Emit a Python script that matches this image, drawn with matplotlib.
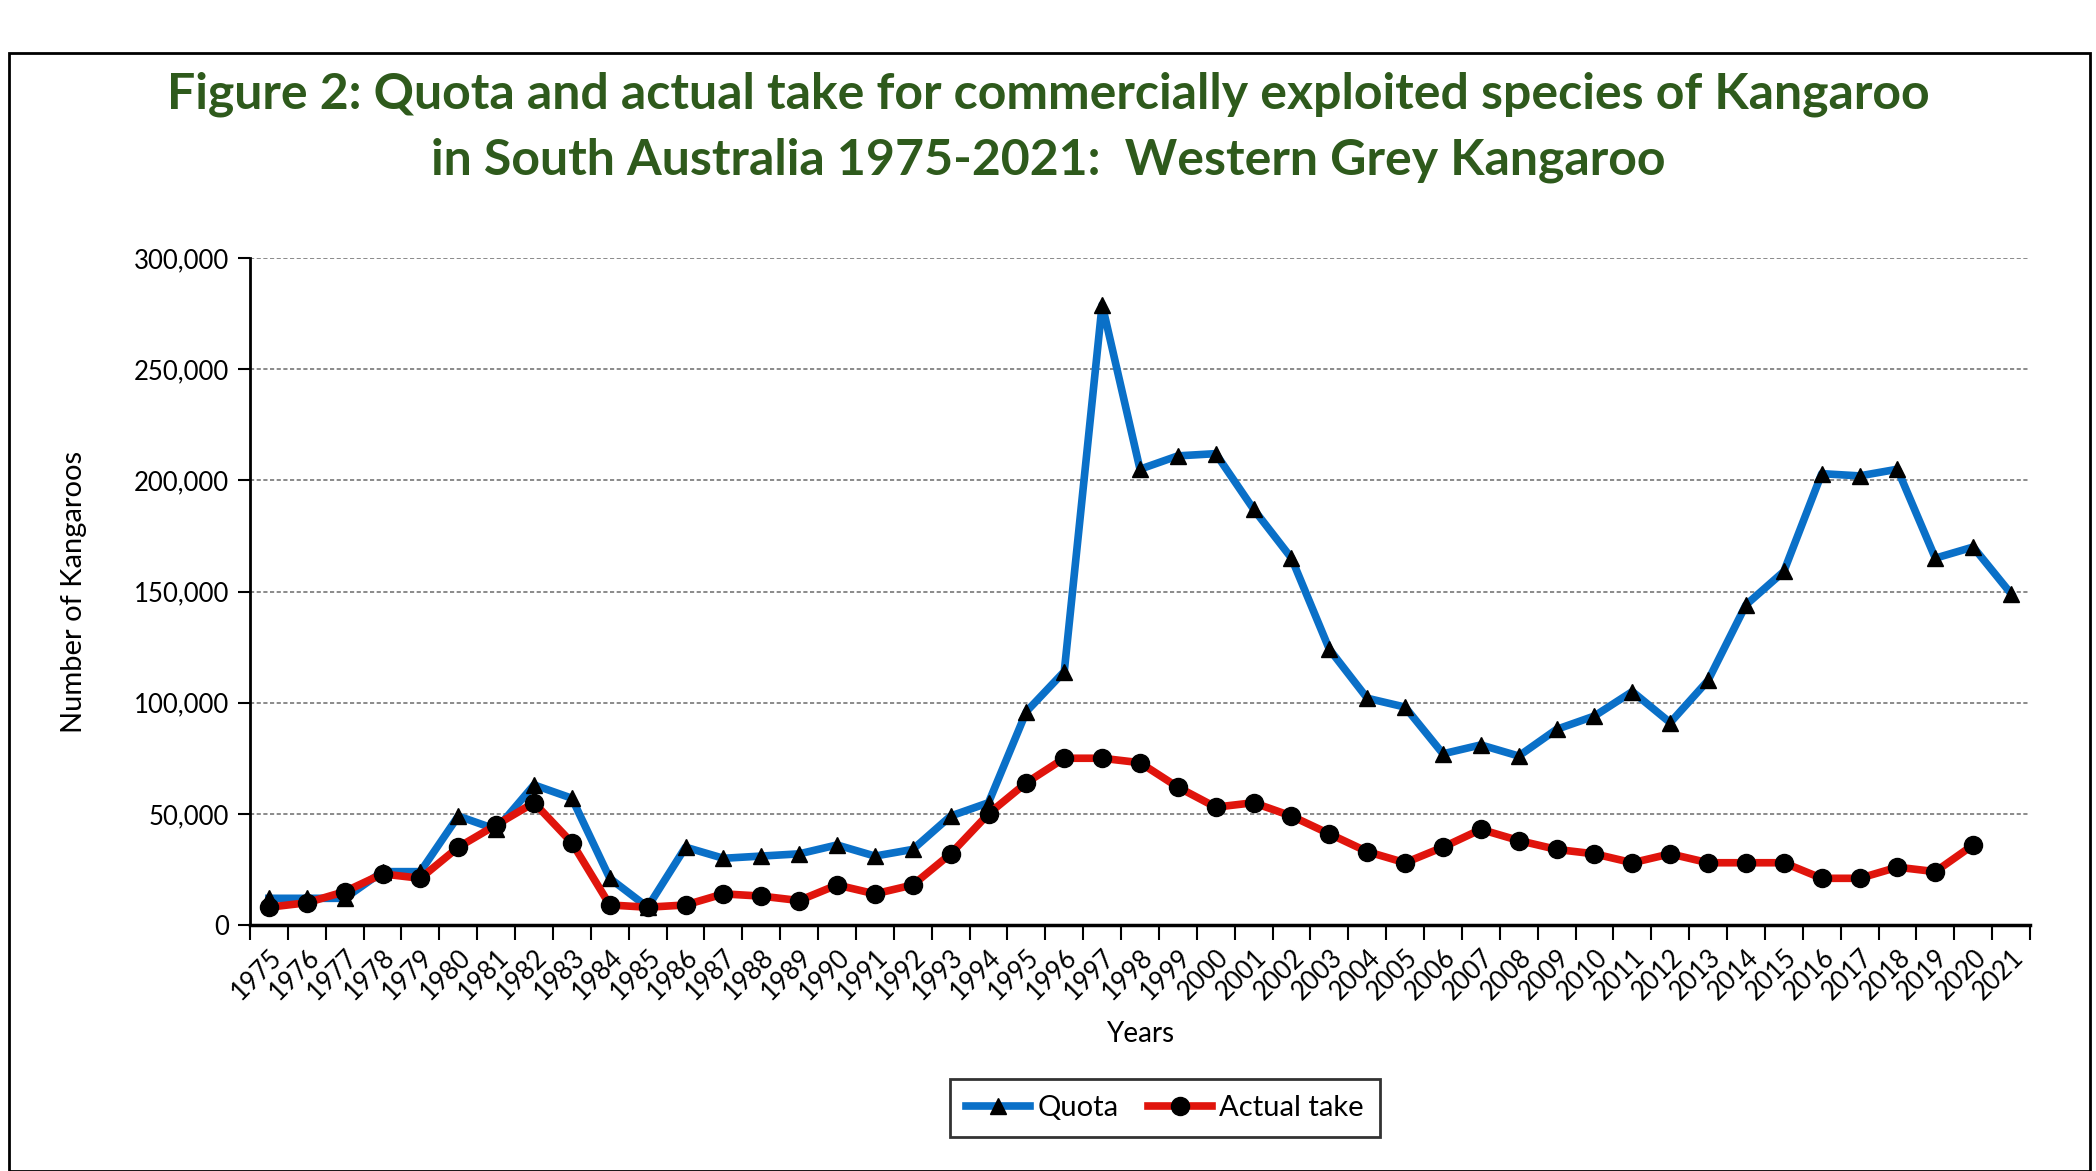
import numpy as np
import matplotlib
matplotlib.use("Agg")
import matplotlib.pyplot as plt
from matplotlib.patches import Rectangle
from matplotlib.ticker import FuncFormatter, FixedLocator

plt.rcParams["font.family"] = ["Lato", "DejaVu Sans"]

# --- data -------------------------------------------------------------------
years = list(range(1975, 2022))
quota = [12000, 12000, 12000, 24000, 24000, 49000, 43000, 63000, 57000, 21000,
         8000, 35000, 30000, 31000, 32000, 36000, 31000, 34000, 49000, 55000,
         96000, 114000, 279000, 205000, 211000, 212000, 187000, 165000, 124000,
         102000, 98000, 77000, 81000, 76000, 88000, 94000, 105000, 91000,
         110000, 144000, 159000, 203000, 202000, 205000, 165000, 170000, 149000]
actual = [8000, 10000, 15000, 23000, 21000, 35000, 45000, 55000, 37000, 9000,
          8000, 9000, 14000, 13000, 11000, 18000, 14000, 18000, 32000, 50000,
          64000, 75000, 75000, 73000, 62000, 53000, 55000, 49000, 41000, 33000,
          28000, 35000, 43000, 38000, 34000, 32000, 28000, 32000, 28000, 28000,
          28000, 21000, 21000, 26000, 24000, 36000, np.nan]

title = ("Figure 2: Quota and actual take for commercially exploited species of Kangaroo\n"
         "in South Australia 1975-2021:  Western Grey Kangaroo")

BLUE = "#0A70C8"
RED = "#E0140C"
GREEN = "#2E5A1C"

# --- figure ------------------------------------------------------------------
W, H = 2096, 1171
fig = plt.figure(figsize=(W / 100, H / 100), dpi=100)

# outer frame
fig.patches.append(Rectangle((9 / W, 0.5 / H), (2090 - 9) / W, (1171 - 53) / H,
                             transform=fig.transFigure, fill=False,
                             edgecolor="black", linewidth=2.0))

fig.text(1048 / W, 1 - 127 / H, title, ha="center", va="center",
         fontsize=36, fontweight="bold", color=GREEN, linespacing=1.55)

ax = fig.add_axes([250 / W, 1 - 925 / H, (2030 - 250) / W, (925 - 258) / H])

x = np.arange(len(years))
ax.plot(x, quota, color=BLUE, lw=5.5, marker="^", ms=11,
        mfc="black", mec="black", label="Quota", zorder=3)
ax.plot(x, actual, color=RED, lw=5.5, marker="o", ms=13,
        mfc="black", mec="black", label="Actual take", zorder=4)

ax.set_xlim(-0.5, len(years) - 0.5)
ax.set_ylim(0, 300000)
ax.set_yticks(np.arange(0, 300001, 50000))
ax.yaxis.set_major_formatter(FuncFormatter(lambda v, p: f"{int(v):,}"))
ax.grid(axis="y", color="#777777", linestyle=(0, (2.5, 1.5)), linewidth=1.2)
ax.set_axisbelow(True)

# category ticks between points (Excel style), labels at point centers
ax.xaxis.set_major_locator(FixedLocator(np.arange(-0.5, len(years), 1.0)))
ax.xaxis.set_major_formatter(FuncFormatter(lambda v, p: ""))
ax.xaxis.set_minor_locator(FixedLocator(x))
ax.set_xticklabels([str(y) for y in years], minor=True, rotation=45,
                   ha="right", rotation_mode="anchor", fontsize=18.5)
ax.tick_params(axis="x", which="major", length=11, width=1.5, direction="out")
ax.tick_params(axis="x", which="minor", length=0, pad=14)
ax.tick_params(axis="y", length=9, width=1.5, labelsize=18.5, pad=6)

for s in ("top", "right"):
    ax.spines[s].set_visible(False)
ax.spines["left"].set_linewidth(2)
ax.spines["bottom"].set_linewidth(2.5)

ax.set_xlabel("Years", fontsize=20, labelpad=12)
ax.set_ylabel("Number of Kangaroos", fontsize=21, labelpad=34)

leg = fig.legend(loc="center", bbox_to_anchor=(1165 / W, 1 - 1108 / H), ncol=2,
                 frameon=True, fancybox=False, edgecolor="black", fontsize=21,
                 handlelength=2.2, handletextpad=0.25, columnspacing=1.0,
                 borderpad=0.55)
leg.get_frame().set_linewidth(2)

fig.savefig("out.png", dpi=100)
